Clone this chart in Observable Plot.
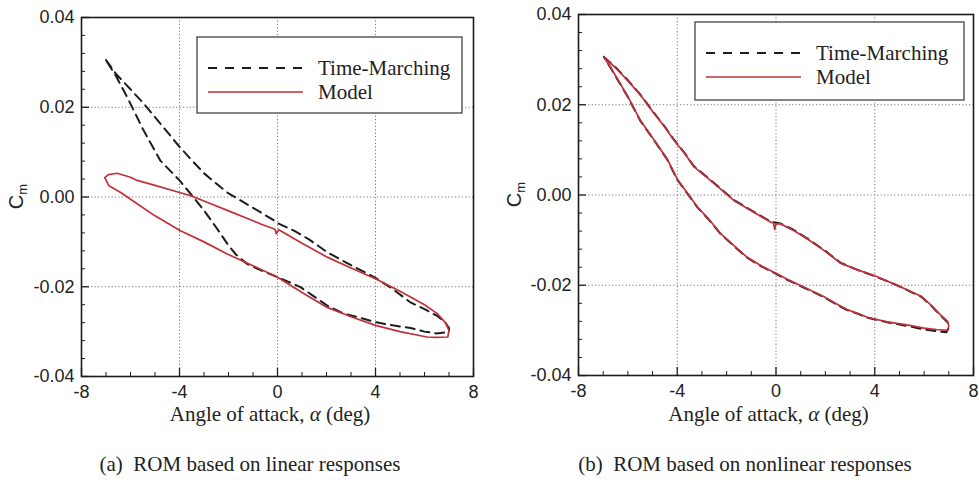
<!DOCTYPE html>
<html><head><meta charset="utf-8">
<script src="https://cdn.jsdelivr.net/npm/d3@7"></script>
<script src="https://cdn.jsdelivr.net/npm/@observablehq/plot@0.6"></script>
<style>
body{margin:0;background:#fff;width:979px;height:480px;position:relative;overflow:hidden}
.panel{position:absolute;top:0}
.cap{position:absolute;top:452px;font:21px/24px "Liberation Serif","Times New Roman",serif;color:#222;text-align:center;white-space:pre}
</style></head><body>
<div id="pa" class="panel" style="left:0"></div>
<div id="pb" class="panel" style="left:490px"></div>
<div class="cap" style="left:0;width:500px">(a)  ROM based on linear responses</div>
<div class="cap" style="left:490px;width:510px">(b)  ROM based on nonlinear responses</div>
<script>
// ---- axes / ticks ----
const xMajorTicks = [-8, -4, 0, 4, 8];
const xMinorTicks = [-7, -6, -5, -3, -2, -1, 1, 2, 3, 5, 6, 7];
const yMajorTicks = [-0.04, -0.02, 0, 0.02, 0.04];
const yMinorTicks = [-0.036, -0.032, -0.028, -0.024, -0.016, -0.012, -0.008, -0.004,
  0.004, 0.008, 0.012, 0.016, 0.024, 0.028, 0.032, 0.036];
const gridXValues = [-4, 0, 4];
const gridYValues = [-0.02, 0, 0.02];
const seriesNames = ["Time-Marching", "Model"];
const xLabelText = "Angle of attack, ";

// ---- (a) linear responses ----
const leftTimeAlpha = [-7.0, -6.6, -6.0, -5.46, -5.0, -4.5, -4.0, -3.5, -3.0, -2.5, -2.0, -1.0, -0.15, 0.0, 0.67, 1.3, 2.03, 3.0, 4.0, 4.7, 5.43, 6.0, 6.52, 6.85, 7.0, 7.0,
  6.5, 6.0, 5.43, 4.7, 4.0, 3.3, 2.71, 2.03, 1.5, 0.94, 0.4, -0.15, -0.7, -1.24, -1.7, -2.05, -2.5, -3.0, -3.5, -4.0, -4.78, -5.5, -6.13, -6.6, -7.0];
const leftTimeCm = [0.0305, 0.0275, 0.0240, 0.0208, 0.0178, 0.0145, 0.0112, 0.0082, 0.0053, 0.0030, 0.0008, -0.0024, -0.0052, -0.0058, -0.0075, -0.0095, -0.0123, -0.0152, -0.0180, -0.0205, -0.0235, -0.0250, -0.0265, -0.0280, -0.0292, -0.0301,
  -0.0304, -0.0300, -0.0292, -0.0286, -0.0279, -0.0268, -0.0260, -0.0242, -0.0222, -0.0201, -0.0188, -0.0175, -0.0163, -0.0149, -0.0128, -0.0104, -0.0068, -0.0030, 0.0004, 0.0037, 0.0081, 0.0152, 0.0222, 0.0270, 0.0305];
const leftModelAlpha = [-7.05, -6.9, -6.55, -6.0, -5.73, -5.0, -4.0, -3.55, -3.0, -2.0, -1.0, -0.69, -0.1, -0.05, 0.05, 1.0, 2.03, 3.0, 4.0, 5.0, 5.43, 6.0, 6.52, 6.85, 7.0,
  6.95, 6.5, 6.1, 5.0, 4.0, 3.0, 2.03, 1.0, 0.0, -1.0, -2.05, -3.0, -3.96, -5.0, -5.73, -6.4, -6.88, -7.05];
const leftModelCm = [0.0043, 0.0050, 0.0053, 0.0044, 0.0037, 0.0026, 0.0010, 0.0003, -0.0009, -0.0031, -0.0053, -0.0060, -0.0072, -0.0082, -0.0073, -0.0103, -0.0134, -0.0158, -0.0182, -0.0210, -0.0223, -0.0240, -0.0260, -0.0280, -0.0297,
  -0.0312, -0.0313, -0.0312, -0.0300, -0.0286, -0.0267, -0.0246, -0.0213, -0.0179, -0.0153, -0.0127, -0.0100, -0.0075, -0.0042, -0.0015, 0.0010, 0.0025, 0.0043];

// ---- (b) nonlinear responses ----
const rightModelAlpha = [-6.97, -6.5, -6.03, -5.5, -5.0, -4.5, -4.14, -3.7, -3.33, -2.8, -2.3, -1.71, -1.0, -0.22, -0.1, -0.05, 0.0, 0.18, 0.7, 1.26, 2.0, 2.61, 3.3, 3.96, 4.77, 5.4, 5.9, 6.3, 6.65, 6.95, 7.0,
  6.95, 6.5, 6.0, 5.3, 4.5, 3.7, 3.3, 2.88, 2.4, 1.93, 1.12, 0.5, -0.09, -0.6, -1.17, -1.7, -2.25, -2.7, -3.19, -3.6, -4.0, -4.41, -5.0, -5.49, -6.0, -6.4, -6.7, -6.97];
const rightModelCm = [0.0305, 0.0282, 0.0255, 0.0222, 0.0185, 0.0150, 0.0122, 0.0092, 0.0063, 0.0039, 0.0016, -0.0012, -0.0035, -0.0060, -0.0062, -0.0076, -0.0064, -0.0064, -0.0078, -0.0097, -0.0125, -0.0151, -0.0166, -0.0178, -0.0197, -0.0212, -0.0225, -0.0245, -0.0265, -0.0280, -0.0290,
  -0.0300, -0.0298, -0.0295, -0.0288, -0.0281, -0.0271, -0.0262, -0.0254, -0.0240, -0.0225, -0.0204, -0.0188, -0.0171, -0.0157, -0.0138, -0.0112, -0.0085, -0.0055, -0.0026, 0.0005, 0.0035, 0.0080, 0.0127, 0.0165, 0.0218, 0.0255, 0.0283, 0.0305];
const rightTimeAlpha = [-6.97, -6.5, -6.03, -5.5, -5.0, -4.5, -4.14, -3.7, -3.33, -2.8, -2.3, -1.71, -1.0, -0.22, 0.18, 0.7, 1.26, 2.0, 2.61, 3.3, 3.96, 4.77, 5.4, 5.9, 6.3, 6.65, 6.95, 7.0,
  6.9, 6.5, 6.0, 5.3, 4.5, 3.7, 3.3, 2.88, 2.4, 1.93, 1.12, 0.5, -0.09, -0.6, -1.17, -1.7, -2.25, -2.7, -3.19, -3.6, -4.0, -4.41, -5.0, -5.49, -6.0, -6.4, -6.7, -6.97];
const rightTimeCm = [0.0306, 0.0283, 0.0256, 0.0223, 0.0186, 0.0151, 0.0123, 0.0093, 0.0064, 0.0040, 0.0017, -0.0011, -0.0034, -0.0059, -0.0063, -0.0077, -0.0096, -0.0124, -0.0150, -0.0166, -0.0179, -0.0197, -0.0213, -0.0226, -0.0246, -0.0266, -0.0282, -0.0294,
  -0.0304, -0.0302, -0.0298, -0.0290, -0.0282, -0.0272, -0.0263, -0.0255, -0.0241, -0.0226, -0.0205, -0.0189, -0.0172, -0.0158, -0.0139, -0.0113, -0.0086, -0.0056, -0.0027, 0.0004, 0.0034, 0.0079, 0.0126, 0.0164, 0.0217, 0.0254, 0.0282, 0.0306];

const RED = "#c0313c";
const DARK = "#1c1c1c";
const zip = (a, c) => a.map((v, i) => ({a: v, c: c[i]}));

function panel({el, width, mLeft, mRight, mTop, mBottom, time, model, legend, cmX}) {
  const height = 440;
  const fw = width - mLeft - mRight, fh = height - mTop - mBottom;
  const svg = Plot.plot({
    width, height,
    marginLeft: mLeft, marginRight: mRight, marginTop: mTop, marginBottom: mBottom,
    style: {fontFamily: "'Liberation Sans', Arial, sans-serif", fontSize: "18px", color: "#222", background: "#fff", overflow: "visible"},
    x: {domain: [-8, 8]},
    y: {domain: [-0.04, 0.04]},
    marks: [
      Plot.gridX(gridXValues, {stroke: "#777", strokeOpacity: 1, strokeDasharray: "1.2,2.2", strokeWidth: 1}),
      Plot.gridY(gridYValues, {stroke: "#777", strokeOpacity: 1, strokeDasharray: "1.2,2.2", strokeWidth: 1}),
      Plot.line(time, {x: "a", y: "c", stroke: DARK, strokeWidth: 2, strokeDasharray: "9,6"}),
      Plot.line(model, {x: "a", y: "c", stroke: RED, strokeWidth: 1.7}),
      // inward tick marks on bottom and left edges
      Plot.ruleX(xMinorTicks, {stroke: DARK, strokeWidth: 1, insetTop: fh - 4}),
      Plot.ruleX(xMajorTicks, {stroke: DARK, strokeWidth: 1.3, insetTop: fh - 8}),
      Plot.ruleY(yMinorTicks, {stroke: DARK, strokeWidth: 1, insetRight: fw - 4}),
      Plot.ruleY(yMajorTicks, {stroke: DARK, strokeWidth: 1.3, insetRight: fw - 8}),
      Plot.axisX(xMajorTicks, {anchor: "bottom", tickSize: 0, tickPadding: 9, tickFormat: d => String(d), label: null, fontSize: 18}),
      Plot.axisY(yMajorTicks, {anchor: "left", tickSize: 0, tickPadding: 7, tickFormat: d => d.toFixed(2), label: null, fontSize: 18}),
      Plot.frame({stroke: DARK, strokeWidth: 1.6})
    ]
  });
  const s = d3.select(svg);
  const serif = "'Liberation Serif', 'Times New Roman', serif";
  // legend box
  const g = s.append("g").attr("text-anchor", "start");
  g.append("rect").attr("x", legend.x).attr("y", legend.y).attr("width", legend.w).attr("height", legend.h)
    .attr("fill", "#fff").attr("stroke", "#444").attr("stroke-width", 1.3);
  const lx = legend.x + 11, tx = legend.x + 121;
  const rows = [legend.y + 31, legend.y + 55];
  g.append("line").attr("x1", lx).attr("x2", lx + 95).attr("y1", rows[0]).attr("y2", rows[0])
    .attr("stroke", DARK).attr("stroke-width", 2).attr("stroke-dasharray", "9,8");
  g.append("line").attr("x1", lx).attr("x2", lx + 95).attr("y1", rows[1]).attr("y2", rows[1])
    .attr("stroke", RED).attr("stroke-width", 1.7);
  seriesNames.forEach((n, i) => {
    g.append("text").attr("x", tx).attr("y", rows[i] + 7).attr("text-anchor", "start")
      .attr("font-family", serif).attr("font-size", 21).attr("fill", "#222").text(n);
  });
  // x axis label
  const cx = (mLeft + width - mRight) / 2 - 7;
  const xl = s.append("text").attr("x", cx).attr("y", 421).attr("text-anchor", "middle")
    .attr("font-family", serif).attr("font-size", 21).attr("fill", "#222");
  xl.append("tspan").text(xLabelText);
  xl.append("tspan").attr("font-style", "italic").text("α");
  xl.append("tspan").text(" (deg)");
  // y axis label C_m
  const cy = (mTop + height - mBottom) / 2;
  const yl = s.append("text").attr("transform", `translate(${cmX},${cy}) rotate(-90)`).attr("text-anchor", "middle")
    .attr("font-family", "'Liberation Sans', Arial, sans-serif").attr("font-size", 20).attr("fill", "#222");
  yl.append("tspan").text("C");
  yl.append("tspan").attr("font-size", 13).attr("dy", 4).text("m");
  el.appendChild(svg);
}

panel({el: document.getElementById("pa"), width: 490, mLeft: 81, mRight: 17, mTop: 17, mBottom: 64,
  time: zip(leftTimeAlpha, leftTimeCm), model: zip(leftModelAlpha, leftModelCm),
  legend: {x: 197, y: 37, w: 265, h: 76}, cmX: 23});
panel({el: document.getElementById("pb"), width: 489, mLeft: 88, mRight: 6, mTop: 14, mBottom: 65,
  time: zip(rightTimeAlpha, rightTimeCm), model: zip(rightModelAlpha, rightModelCm),
  legend: {x: 205, y: 22, w: 269, h: 78}, cmX: 31});
</script>
</body></html>
